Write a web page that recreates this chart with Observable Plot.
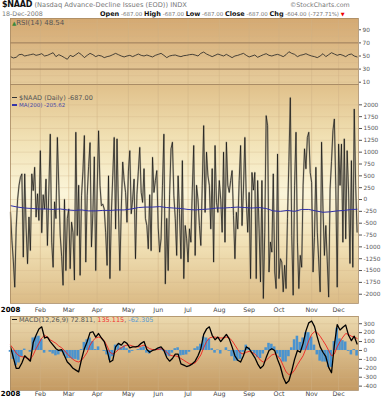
<!DOCTYPE html>
<html><head><meta charset="utf-8">
<script src="https://cdn.jsdelivr.net/npm/d3@7"></script>
<script src="https://cdn.jsdelivr.net/npm/@observablehq/plot@0.6"></script>
<style>
body{margin:0;background:#fff;font-family:"DejaVu Sans",Verdana,sans-serif;}
#wrap{position:relative;width:388px;height:400px;overflow:hidden;background:#fff;}
.abs{position:absolute;white-space:nowrap;line-height:8px;height:8px;}
.bg{position:absolute;left:10px;width:348px;}
.pl{position:absolute;left:0;}
.sw{display:inline-block;width:5px;height:1.5px;vertical-align:middle;margin-right:2px;}
.hb{font-weight:bold;color:#111;font-size:6.5px;}
</style></head><body><div id="wrap">
<div class="abs" style="left:2px;top:1px;font-size:6.7px;color:#777"><b style="font-size:8px;color:#111;letter-spacing:-0.2px">$NAAD</b> (Nasdaq Advance-Decline Issues (EOD)) INDX</div>
<div class="abs" style="left:290px;top:1px;font-size:6.3px;color:#777">©StockCharts.com</div>
<div class="abs" style="left:2px;top:9.5px;font-size:6.3px;color:#777">18-Dec-2008</div>
<div class="abs" style="left:100px;top:9.5px;font-size:5.5px;color:#777"><span class="hb">Open</span> -687.00 <span class="hb">High</span> -687.00 <span class="hb">Low</span> -687.00 <span class="hb">Close</span> -687.00 <span class="hb">Chg</span> -604.00 (-727.71%) <span style="color:#e00;font-size:5px">▼</span></div>
<div class="bg" style="top:18px;height:66px;background:linear-gradient(#d4a972,#e6cc9c);"></div>
<div class="bg" style="top:84px;height:219px;background:linear-gradient(#e0c08a 0%,#f1e1b4 25%,#fbf5d9 50%,#f0dfb3 75%,#dbbb86 100%);"></div>
<div class="bg" style="top:316px;height:74px;background:linear-gradient(#ecdaaf,#c49a62);"></div>
<div id="p1" class="pl" style="top:18px"></div>
<div id="p2" class="pl" style="top:84px"></div>
<div id="p3" class="pl" style="top:316px"></div>
<div class="abs" style="left:12px;top:19px;font-size:7px;color:#555"><span style="color:#3b8a3b;font-size:5.5px">▲</span>RSI(14) 48.54</div>
<div class="abs" style="left:12px;top:93.5px;font-size:6.5px;color:#555"><span class="sw" style="background:#333"></span>$NAAD (Daily) -687.00</div>
<div class="abs" style="left:12px;top:100.5px;font-size:5.5px;color:#4848a8"><span class="sw" style="background:#3535a8"></span>MA(200) -205.62</div>
<div class="abs" style="left:12px;top:315.5px;font-size:6.5px;color:#555"><span class="sw" style="background:#111"></span>MACD(12,26,9) 72.811, <span style="color:#f03030">135.115</span>, <span style="color:#5a9ad0">-62.305</span></div>
</div>
<script>
// ---- data (2008 trading days, Jan 2 .. Dec 18) ----
const holidays = ["2008-01-01","2008-01-21","2008-02-18","2008-03-21","2008-05-26","2008-07-04","2008-09-01","2008-11-27"];
const monthLabels = ["2008","Feb","Mar","Apr","May","Jun","Jul","Aug","Sep","Oct","Nov","Dec"];

// $NAAD daily values
const naad = [
 -270,-860,-1300,-1850,-600,0,300,470,540,-1215,540,-600,-1355,-370,-1075,540,190,680,-370,120,-440,
 1030,-700,100,-200,430,-970,200,1380,-900,-1430,-50,-400,1310,300,-750,-1200,-1810,0,-1500,-400,
 -200,-1460,-480,-700,-1700,1420,-760,300,-1600,80,600,1350,-1320,80,700,1200,-1000,-300,900,-1500,
 200,1450,300,-130,-100,-200,-700,-1390,500,-1670,-300,500,1310,-620,1280,-200,-1500,-200,790,400,150,-480,
 600,1030,-300,0,430,-1250,100,600,1100,150,-60,650,-400,-550,-1040,100,-1080,890,150,400,610,
 -600,-1110,-830,300,1380,-1780,-400,-1500,100,1070,1210,80,-400,-1180,500,-300,-1250,820,-1670,-550,-830,
 -1320,-620,-900,200,1140,-1180,300,0,-550,-970,300,1560,-270,1000,500,300,-620,650,-1320,1140,-60,-270,
 400,0,-690,1000,-900,1210,300,150,400,610,-340,-1250,-270,-620,400,1140,-550,200,1310,0,-690,
 150,-1670,570,200,570,-1670,400,-620,-1740,400,-2090,-690,1770,1560,-1530,-900,-1110,540,-1530,-1880,960,
 -1670,-1250,-1320,-1950,-1390,-1880,-400,800,2150,-760,-2020,300,1420,-900,-1880,-1180,-1430,300,1070,650,1310,1420,570,
 360,-1530,-800,680,-690,-1300,-1950,1210,-200,-1180,-550,-1300,-2060,220,800,1450,1700,300,-1850,
 1170,300,1170,-900,1280,-830,1030,200,-1350,820,-1430,1910,300,-687
];

// MA(200), read every 5 trading days (last = final day)
const ma200 = [-130,-160,-180,-190,-200,-200,-210,-200,-220,-230,-220,-240,-240,-230,-230,-220,-220,-200,-170,-160,
 -160,-150,-170,-180,-190,-210,-220,-210,-200,-180,-180,-170,-160,-170,-180,-170,-190,-240,-250,-230,
 -250,-210,-210,-240,-270,-260,-240,-230,-210,-205.62];

// RSI(14), read every 2 trading days
const rsi14 = [49,47,48,52,52.5,50,51,52,53,51,52,53.5,50,51,53,55,49,52,50,47.5,45,51,49,52,55,52,47.5,51,54,52,
 49,51,50,47.5,49,50,52,54,52,50,48.5,50,51,49,51,53,51,50,51.5,50,48.5,51,52.5,54,51,47.5,50,51,51.5,50,
 49,50.5,51,52,52.5,51.5,50,54,56,53,51,49,51,53,51.5,50,52.5,50,47.5,50,51,52.5,54,51,48.5,50,51.5,48,50,52,
 53.5,51,50,51.5,52.5,51,49,52,56.5,54,52.5,49,51,52,53.5,51.5,50,49,47.5,50,53.5,49,52,55,53,51,52.5,51,49,52,
 53,50,48.54];

// MACD(12,26,9): line, signal and histogram, read every 2 trading days
const macdLine = [40,-80,-200,-200,-140,-60,-90,-120,90,170,240,265,140,150,100,60,20,0,10,-60,
 -130,-160,-200,-220,-240,-100,20,100,200,210,150,190,140,100,0,-130,-110,40,80,60,
 100,80,30,40,40,50,80,100,10,-20,0,10,30,40,0,-80,-120,-90,-40,-40,
 -150,-165,-180,-170,-150,-120,-60,20,180,240,265,170,120,150,100,140,180,130,40,-60,
 -110,-130,-60,40,20,-30,-80,-150,-200,-170,-80,0,20,0,-100,-180,-300,-370,-340,-230,
 -100,0,-20,80,220,310,330,270,150,40,-20,-70,-190,-250,60,290,230,260,285,170,
 110,160,72.811];
const macdSignal = [60,20,-30,-60,-70,-75,-90,-100,-50,20,80,140,170,150,120,100,80,50,30,0,
 -40,-70,-100,-120,-130,-110,-70,-20,60,110,140,150,140,110,50,-20,-40,-20,10,30,
 50,60,60,50,40,40,50,60,40,20,10,10,10,20,10,-20,-50,-60,-60,-70,
 -90,-110,-130,-150,-150,-140,-100,-50,30,100,140,150,150,145,140,140,150,140,110,60,
 10,-30,-40,-20,-10,-20,-40,-70,-110,-130,-110,-80,-50,-40,-60,-100,-170,-240,-270,-260,
 -220,-160,-110,-60,20,110,180,210,200,160,110,60,0,-60,-40,40,100,150,190,180,
 160,150,135.115];
const macdHist = [-20,-100,-170,-140,-70,15,0,-20,140,150,160,125,-30,0,-20,-40,-60,-50,-20,-60,
 -90,-90,-100,-100,-110,10,90,120,140,100,10,40,0,-10,-50,-110,-70,60,70,30,
 50,20,-30,-10,0,10,30,40,-30,-40,-10,0,20,20,-10,-60,-70,-30,20,30,
 -60,-55,-50,-20,0,20,40,70,150,140,125,20,-30,5,-40,0,30,-10,-70,-120,
 -120,-100,-20,60,30,-10,-40,-80,-90,-40,30,80,70,40,-40,-80,-130,-130,-70,30,
 120,160,90,140,200,200,150,60,-50,-120,-130,-130,-190,-190,100,250,130,110,95,-10,
 -50,10,-62.305];

// ---- build tables ----
const fmt = d3.utcFormat("%Y-%m-%d");
const days = d3.utcDay.range(new Date(Date.UTC(2008,0,1)), new Date(Date.UTC(2008,11,19)))
  .filter(d => d.getUTCDay() % 6 !== 0 && !holidays.includes(fmt(d)));
const last = days.length - 1;
const naadData = naad.map((v, i) => ({i, v}));
const maData = ma200.map((v, k) => ({i: Math.min(k * 5, last), v}));
const rsiData = rsi14.map((v, k) => ({i: Math.min(k * 2, last), v}));
const macdData = macdLine.map((v, k) => ({i: Math.min(k * 2, last), v}));
const sigData = macdSignal.map((v, k) => ({i: Math.min(k * 2, last), v}));
const histData = macdHist.map((v, k) => ({i: Math.min(k * 2, last), v}));
const monthStarts = days.map((d, i) => ({i, m: d.getUTCMonth()}))
  .filter((d, i, a) => i === 0 || a[i - 1].m !== d.m)
  .map(d => ({i: d.i, label: monthLabels[d.m]}));
const firstMonth = monthStarts.slice(0, 1), otherMonths = monthStarts.slice(1);

const grid = "#cfb285";
const plain = d => String(d);
const common = {
  width: 388, marginLeft: 10, marginRight: 30, marginTop: 0,
  x: {domain: [0, 245], axis: null},
  style: {background: "transparent", overflow: "visible", fontFamily: "DejaVu Sans, sans-serif", fontSize: "5.8px", color: "#555"}
};
const monthText = (dy) => [
  Plot.text(firstMonth, {x: "i", text: "label", frameAnchor: "bottom", dy, fontWeight: "bold", fill: "#000", fontSize: 7}),
  Plot.text(otherMonths, {x: "i", text: "label", frameAnchor: "bottom", dy, fill: "#444", fontSize: 6.3})
];

const p1 = Plot.plot({...common, height: 66, marginBottom: 0,
  y: {domain: [6.5, 107.2], axis: "right", ticks: [10, 30, 50, 70, 90], tickFormat: plain, tickSize: 2, tickPadding: 2, label: null},
  marks: [
    Plot.ruleY(d3.range(10, 101, 10), {stroke: grid, strokeWidth: 0.5, strokeOpacity: 0.6}),
    Plot.ruleX(otherMonths, {x: "i", stroke: grid, strokeWidth: 0.6, strokeOpacity: 0.8}),
    Plot.ruleY([30, 70], {stroke: "#9c7c58", strokeWidth: 1}),
    Plot.line(rsiData, {x: "i", y: "v", stroke: "#222", strokeWidth: 0.8}),
    Plot.frame({stroke: "#a88a64", strokeWidth: 0.8})
  ]});
document.getElementById("p1").append(p1);

const p2 = Plot.plot({...common, height: 232, marginBottom: 13,
  y: {domain: [-2196, 2429], axis: "right", ticks: d3.range(-2000, 2001, 250), tickFormat: plain, tickSize: 3, tickPadding: 2, label: null},
  marks: [
    Plot.ruleY(d3.range(-2000, 2001, 250), {stroke: grid, strokeWidth: 0.5, strokeOpacity: 0.6}),
    Plot.ruleX(otherMonths, {x: "i", stroke: grid, strokeWidth: 0.6, strokeOpacity: 0.8}),
    Plot.line(naadData, {x: "i", y: "v", stroke: "#a09a86", strokeWidth: 1.8, strokeOpacity: 0.6}),
    Plot.line(naadData, {x: "i", y: "v", stroke: "#111", strokeWidth: 0.7}),
    Plot.line(maData, {x: "i", y: "v", stroke: "#3030a8", strokeWidth: 1}),
    Plot.frame({stroke: "#a88a64", strokeWidth: 0.8}),
    ...monthText(8)
  ]});
document.getElementById("p2").append(p2);

const p3 = Plot.plot({...common, height: 84, marginBottom: 10,
  y: {domain: [-449, 381], axis: "right", ticks: d3.range(-400, 301, 100), tickFormat: plain, tickSize: 3, tickPadding: 2, label: null},
  marks: [
    Plot.ruleY(d3.range(-400, 301, 100), {stroke: grid, strokeWidth: 0.5, strokeOpacity: 0.6}),
    Plot.ruleX(otherMonths, {x: "i", stroke: grid, strokeWidth: 0.6, strokeOpacity: 0.8}),
    Plot.rect(histData, {x1: d => d.i - 0.9, x2: d => d.i + 0.9, y1: () => 0, y2: "v", fill: "#4a93cf"}),
    Plot.line(sigData, {x: "i", y: "v", stroke: "#f02020", strokeWidth: 0.9}),
    Plot.line(macdData, {x: "i", y: "v", stroke: "#000", strokeWidth: 1.3}),
    Plot.frame({stroke: "#a88a64", strokeWidth: 0.8}),
    ...monthText(5)
  ]});
document.getElementById("p3").append(p3);
</script>
</body></html>
